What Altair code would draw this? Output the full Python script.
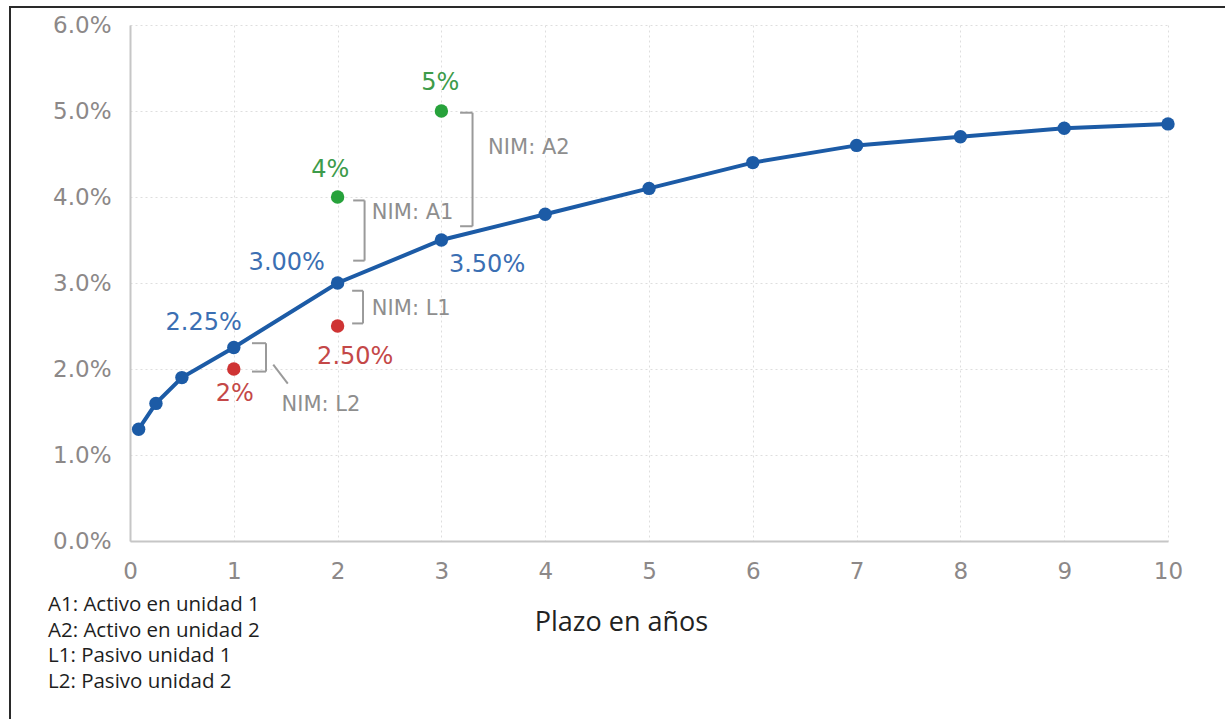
import altair as alt
import pandas as pd

# Curva de rendimientos: plazo (años) y tasa
plazo = [1 / 12, 0.25, 0.5, 1, 2, 3, 4, 5, 6, 7, 8, 9, 10]
tasa = [0.013, 0.016, 0.019, 0.0225, 0.030, 0.035, 0.038, 0.041, 0.044, 0.046, 0.047, 0.048, 0.0485]

# Activos (verde) y pasivos (rojo)
activo_plazo = [2, 3]
activo_tasa = [0.04, 0.05]
activo_txt = ["4%", "5%"]
activo_txt_x = [1.93, 2.99]
activo_txt_y = [0.0431, 0.0533]

pasivo_plazo = [1, 2]
pasivo_tasa = [0.02, 0.025]
pasivo_txt = ["2%", "2.50%"]
pasivo_txt_x = [1.01, 2.17]
pasivo_txt_y = [0.0171, 0.0214]

# Tasas de la curva anotadas
curva_txt = ["2.25%", "3.00%", "3.50%"]
curva_txt_x = [0.71, 1.51, 3.44]
curva_txt_y = [0.0253, 0.0323, 0.0321]

# Corchetes NIM: inicio del trazo, trazo vertical, tasa superior e inferior
nim_nombre = ["NIM: A2", "NIM: A1", "NIM: L1", "NIM: L2"]
nim_x0 = [3.18, 2.15, 2.14, 1.175]
nim_x1 = [3.30, 2.26, 2.245, 1.31]
nim_top = [0.0498, 0.0396, 0.0291, 0.0230]
nim_bot = [0.0366, 0.0326, 0.0253, 0.0197]
nim_txt_x = [3.45, 2.33, 2.33, 1.46]
nim_txt_y = [0.0457, 0.0381, 0.0270, 0.0158]
# línea guía de la etiqueta NIM: L2
guia_x = [1.38, 1.52]
guia_y = [0.0205, 0.0183]

notas = ["A1: Activo en unidad 1", "A2: Activo en unidad 2",
         "L1: Pasivo unidad 1", "L2: Pasivo unidad 2"]

AZUL = "#1c5ba6"
AZUL_TXT = "#3b6fb3"
VERDE = "#27a23b"
VERDE_TXT = "#3d9b4a"
ROJO = "#cf3434"
ROJO_TXT = "#c44848"
GRIS = "#9a9a9a"
GRIS_TXT = "#8e8e8e"
FUENTE = "DejaVu Sans"
FUENTE_NOTAS = "Open Sans"

xscale = alt.Scale(domain=[0, 10], nice=False, zero=False)
yscale = alt.Scale(domain=[0, 0.06], nice=False)

curva = pd.DataFrame({"plazo": plazo, "tasa": tasa})
activos = pd.DataFrame({"plazo": activo_plazo, "tasa": activo_tasa,
                        "txt": activo_txt, "tx": activo_txt_x, "ty": activo_txt_y})
pasivos = pd.DataFrame({"plazo": pasivo_plazo, "tasa": pasivo_tasa,
                        "txt": pasivo_txt, "tx": pasivo_txt_x, "ty": pasivo_txt_y})
etiquetas_curva = pd.DataFrame({"txt": curva_txt, "tx": curva_txt_x, "ty": curva_txt_y})

segmentos = []
for n, x0, x1, t, b in zip(nim_nombre, nim_x0, nim_x1, nim_top, nim_bot):
    segmentos.append({"x": x0, "x2": x1, "y": t, "y2": t})
    segmentos.append({"x": x1, "x2": x1, "y": t, "y2": b})
    segmentos.append({"x": x0, "x2": x1, "y": b, "y2": b})
segmentos.append({"x": guia_x[0], "x2": guia_x[1], "y": guia_y[0], "y2": guia_y[1]})
segmentos = pd.DataFrame(segmentos)
nim_labels = pd.DataFrame({"txt": nim_nombre, "tx": nim_txt_x, "ty": nim_txt_y})

x_axis = alt.Axis(
    values=list(range(11)), format="d", grid=True, gridDash=[2, 3],
    gridColor="#dedede", gridWidth=1, ticks=False, domainColor="#c6c6c6",
    domainWidth=2, labelFont=FUENTE, labelFontSize=23, labelColor="#8c8888",
    labelPadding=30, labelBaseline="middle", labelFlush=False, labelOverlap=False,
    title="Plazo en años", titleFont=FUENTE_NOTAS, titleFontSize=27,
    titleFontWeight="normal", titleColor="#222222",
    titleX=491, titleY=81, titleBaseline="middle", titleAlign="center",
)
y_axis = alt.Axis(
    values=[0, 0.01, 0.02, 0.03, 0.04, 0.05, 0.06], format=".1%", grid=True,
    gridDash=[2, 3], gridColor="#dedede", gridWidth=1, ticks=False,
    domainColor="#c6c6c6", domainWidth=2, labelFont=FUENTE, labelFontSize=23,
    labelColor="#8c8888", labelPadding=19, labelFlush=False, title=None,
)

base = alt.Chart(curva)

linea = base.mark_line(color=AZUL, strokeWidth=4).encode(
    x=alt.X("plazo:Q", scale=xscale, axis=x_axis),
    y=alt.Y("tasa:Q", scale=yscale, axis=y_axis),
)
puntos = base.mark_point(filled=True, color=AZUL, size=180, opacity=1).encode(
    x=alt.X("plazo:Q", scale=xscale), y=alt.Y("tasa:Q", scale=yscale)
)

corchetes = alt.Chart(segmentos).mark_rule(color=GRIS, strokeWidth=2).encode(
    x=alt.X("x:Q", scale=xscale), x2="x2:Q",
    y=alt.Y("y:Q", scale=yscale), y2="y2:Q",
)

pts_activos = alt.Chart(activos).mark_point(filled=True, color=VERDE, size=180, opacity=1).encode(
    x=alt.X("plazo:Q", scale=xscale), y=alt.Y("tasa:Q", scale=yscale)
)
pts_pasivos = alt.Chart(pasivos).mark_point(filled=True, color=ROJO, size=180, opacity=1).encode(
    x=alt.X("plazo:Q", scale=xscale), y=alt.Y("tasa:Q", scale=yscale)
)


def etiquetas(df, color, size=24, align="center"):
    return alt.Chart(df).mark_text(
        font=FUENTE, fontSize=size, color=color, align=align, baseline="middle"
    ).encode(
        x=alt.X("tx:Q", scale=xscale), y=alt.Y("ty:Q", scale=yscale), text="txt:N"
    )


txt_activos = etiquetas(activos, VERDE_TXT)
txt_pasivos = etiquetas(pasivos, ROJO_TXT)
txt_curva = etiquetas(etiquetas_curva, AZUL_TXT)
txt_nim = etiquetas(nim_labels, GRIS_TXT, size=21, align="left")

uno = pd.DataFrame({"k": [0]})
notas_txt = alt.Chart(uno).mark_text(
    font=FUENTE_NOTAS, fontSize=20.5, color="#1e1e1e", align="left", baseline="middle",
    lineBreak="\n", lineHeight=25.5,
).encode(x=alt.value(-82), y=alt.value(580), text=alt.value("\n".join(notas)))

marco_sup = alt.Chart(uno).mark_rule(color="#2a2a2a", strokeWidth=2).encode(
    x=alt.value(-121), x2=alt.value(1095), y=alt.value(-18)
)
marco_izq = alt.Chart(uno).mark_rule(color="#2a2a2a", strokeWidth=2).encode(
    x=alt.value(-120), y=alt.value(-19), y2=alt.value(694)
)

chart = alt.layer(
    corchetes, linea, puntos, pts_activos, pts_pasivos,
    txt_activos, txt_pasivos, txt_curva, txt_nim, notas_txt, marco_sup, marco_izq,
).properties(
    width=1038, height=516,
    padding={"left": 130, "top": 25, "right": 57, "bottom": 178},
    autosize=alt.AutoSizeParams(type="none"),
    background="white",
).configure_view(stroke=None)

chart.save("out.html", embed_options={"renderer": "svg", "actions": False})
